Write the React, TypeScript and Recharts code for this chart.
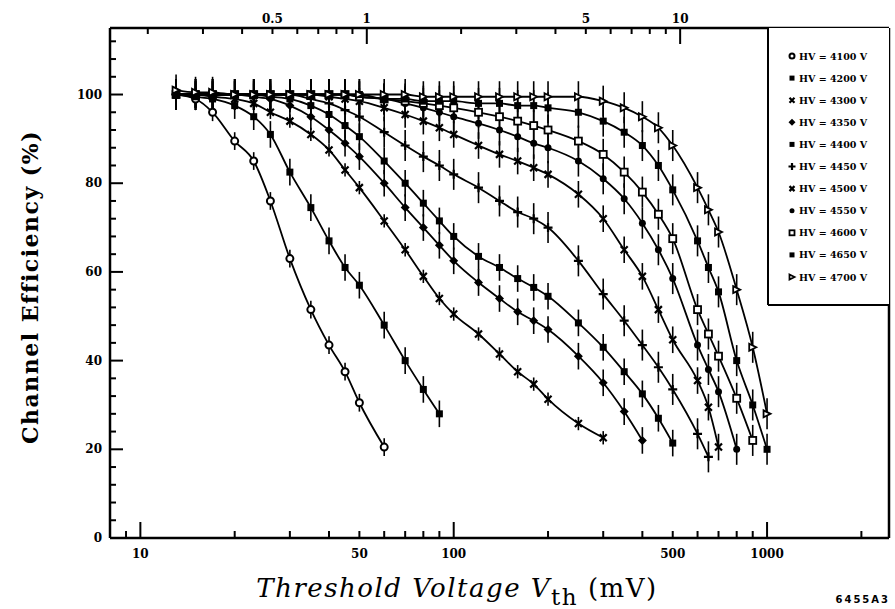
import React from 'react';
import { ComposedChart, Line, XAxis, YAxis, ErrorBar } from 'recharts';

// threshold settings (mV) shared by all HV scans
const THRESHOLDS_MV = [
  13, 15, 17, 20, 23, 26, 30, 35, 40, 45, 50, 60, 70, 80, 90, 100, 120, 140, 160, 180, 200,
  250, 300, 350, 400, 450, 500, 600, 650, 700, 800, 900, 1000,
];

const HV_LABELS = [
  'HV = 4100 V', 'HV = 4200 V', 'HV = 4300 V', 'HV = 4350 V', 'HV = 4400 V', 'HV = 4450 V',
  'HV = 4500 V', 'HV = 4550 V', 'HV = 4600 V', 'HV = 4650 V', 'HV = 4700 V',
];

// efficiency (%) per threshold, each scan stops at its last measured point
const EFF_4100 = [100, 99, 96, 89.5, 85, 76, 63, 51.5, 43.5, 37.5, 30.5, 20.5];
const EFF_4200 = [100, 99.5, 99, 97.5, 95, 91, 82.5, 74.5, 67, 61, 57, 48, 40, 33.5, 28];
const EFF_4300 = [100, 100, 99.5, 99, 98, 96, 94, 91, 87.5, 83, 79, 71.5, 65, 59, 54, 50.5, 46, 41.5, 37.5, 34.7, 31.3, 25.8, 22.6];
const EFF_4350 = [100, 100, 100, 100, 99.5, 99, 97.5, 95, 92, 89, 86, 80, 74.5, 70, 66, 62.5, 57.6, 54, 51, 49, 47, 41, 35, 28.5, 22];
const EFF_4400 = [100, 100, 100, 100, 100, 99.5, 99, 97.5, 95.5, 93, 90.5, 85, 80, 75.5, 71.5, 68, 63.5, 61, 58.5, 56.5, 54.5, 48.5, 43, 37.5, 32.5, 27, 21.4];
const EFF_4450 = [100, 100, 100, 100, 100, 100, 100, 99, 98, 96.5, 95, 91.5, 88.5, 86, 84, 82, 79, 76, 73.5, 72, 70, 62.5, 55, 49, 43.5, 38.5, 33.5, 23.5, 18.3];
const EFF_4500 = [100, 100, 100, 100, 100, 100, 100, 100, 99.5, 99, 98.5, 97, 95.5, 94, 92.5, 91, 88.5, 86.5, 85, 83.5, 82, 77.5, 72, 65, 59, 51.5, 44.7, 35.5, 29.5, 20.5];
const EFF_4550 = [100, 100, 100, 100, 100, 100, 100, 100, 100, 100, 99.5, 99, 98, 97, 96, 95, 93.5, 92, 90.5, 89, 88, 85, 81, 76.5, 71, 65, 58.5, 43.5, 38, 33, 20];
const EFF_4600 = [100, 100, 100, 100, 100, 100, 100, 100, 100, 100, 99.5, 99, 98.5, 98, 97.5, 97, 96, 95, 94, 93, 92, 89.5, 86.5, 82.5, 78, 73, 67.5, 51.5, 46, 41, 31.5, 22];
const EFF_4650 = [100, 100, 100, 100, 100, 100, 100, 100, 100, 100, 100, 99, 99, 98.5, 98.5, 98.5, 98, 98, 97.5, 97.5, 97, 96, 94, 91.5, 88.5, 84, 78.5, 67, 61, 55.5, 40, 30, 20];
const EFF_4700 = [101, 100.5, 100.5, 100, 100, 100, 100, 100, 100, 100, 100, 100, 100, 99.5, 99.5, 99.5, 99.5, 99.5, 99.5, 99.5, 99.5, 99.5, 98.5, 97, 95, 92.5, 88.5, 79, 74, 69, 56, 43, 28];

// typical error bar half-length per scan (%)
const ERRORS = [2, 3, 1.5, 3, 3, 3.5, 3, 3.5, 3.5, 3.5, 3.5];
const MARKERS = ['circle', 'square', 'cross', 'diamond', 'square', 'plus', 'cross', 'dot', 'openSquare', 'square', 'openTriangle'];

const BOTTOM_TICKS = [9, 10, 20, 30, 40, 50, 60, 70, 80, 90, 100, 200, 300, 400, 500, 600, 700, 800, 900, 1000, 2000];
const BOTTOM_LABELS = [10, 50, 100, 500, 1000];
const BOTTOM_MAJOR = [10, 100, 1000];
// upper scale: same threshold expressed in the other unit
const TOP_TICKS = [0.2, 0.3, 0.4, 0.5, 0.6, 0.7, 0.8, 0.9, 1, 2, 3, 4, 5, 6, 7, 8, 9, 10, 20, 30, 40];
const TOP_LABELS = [0.5, 1, 5, 10];
const TOP_MAJOR = [1, 10];
const Y_TICKS = [0, 4, 8, 12, 16, 20, 24, 28, 32, 36, 40, 44, 48, 52, 56, 60, 64, 68, 72, 76, 80, 84, 88, 92, 96, 100, 104, 108, 112];

const MV_PER_UNIT = 52.8;
const X_DOMAIN = [8, 2450];
const W = 895;
const H = 609;

const EFFS = [EFF_4100, EFF_4200, EFF_4300, EFF_4350, EFF_4400, EFF_4450, EFF_4500, EFF_4550, EFF_4600, EFF_4650, EFF_4700];

const series = EFFS.map((vals, i) => ({
  name: HV_LABELS[i],
  marker: MARKERS[i],
  data: vals.map((eff, j) => ({ v: THRESHOLDS_MV[j], eff, err: ERRORS[i] })),
}));

// invisible carrier so the upper axis has something to scale against
const topAxisData = TOP_TICKS.map((t) => ({ t, eff: 0 }));

const tickFont = { fontFamily: 'DejaVu Serif', fontWeight: 700, fontSize: 12, fill: '#000' };

function Marker({ kind, cx, cy, s }: { kind: string; cx: number; cy: number; s: number }) {
  switch (kind) {
    case 'circle':
      return <circle cx={cx} cy={cy} r={s} fill="#fff" stroke="#000" strokeWidth={2} />;
    case 'dot':
      return <circle cx={cx} cy={cy} r={s} fill="#000" />;
    case 'square':
      return <rect x={cx - s} y={cy - s} width={2 * s} height={2 * s} fill="#000" />;
    case 'openSquare':
      return <rect x={cx - s} y={cy - s} width={2 * s} height={2 * s} fill="#fff" stroke="#000" strokeWidth={1.8} />;
    case 'diamond':
      return <path d={`M${cx},${cy - s - 1}L${cx + s + 1},${cy}L${cx},${cy + s + 1}L${cx - s - 1},${cy}Z`} fill="#000" />;
    case 'cross':
      return (
        <path d={`M${cx - s},${cy - s}L${cx + s},${cy + s}M${cx - s},${cy + s}L${cx + s},${cy - s}`} stroke="#000" strokeWidth={2.2} />
      );
    case 'plus':
      return <path d={`M${cx - s - 1},${cy}L${cx + s + 1},${cy}M${cx},${cy - s - 1}L${cx},${cy + s + 1}`} stroke="#000" strokeWidth={2.2} />;
    default:
      return <path d={`M${cx - s},${cy - s}L${cx + s},${cy}L${cx - s},${cy + s}Z`} fill="#fff" stroke="#000" strokeWidth={1.8} />;
  }
}

const BottomTick = ({ x, y, payload }: any) => {
  const v = payload.value;
  const len = BOTTOM_MAJOR.includes(v) ? 16 : 7;
  return (
    <g>
      <line x1={x} x2={x} y1={y} y2={y - len} stroke="#000" strokeWidth={2} />
      {BOTTOM_LABELS.includes(v) && (
        <text x={x} y={y + 20} textAnchor="middle" style={tickFont}>
          {v}
        </text>
      )}
    </g>
  );
};

const TopTick = ({ x, y, payload }: any) => {
  const v = payload.value;
  const len = TOP_MAJOR.includes(v) ? 16 : 6;
  return (
    <g>
      <line x1={x} x2={x} y1={y} y2={y + len} stroke="#000" strokeWidth={2} />
      {TOP_LABELS.includes(v) && (
        <text x={x} y={y - 5} textAnchor="middle" style={tickFont}>
          {v}
        </text>
      )}
    </g>
  );
};

const LeftTick = ({ x, y, payload }: any) => {
  const v = payload.value;
  const major = v % 20 === 0;
  return (
    <g>
      <line x1={x} x2={x + (major ? 13 : 6)} y1={y} y2={y} stroke="#000" strokeWidth={2} />
      {major && (
        <text x={x - 8} y={y + 4} textAnchor="end" style={tickFont}>
          {v}
        </text>
      )}
    </g>
  );
};

export default function App() {
  const legendTop = 28;
  const legendLeft = 768;
  return (
    <div style={{ position: 'absolute', left: 0, top: 0, width: W, height: H, background: '#fff' }}>
      <ComposedChart width={W} height={H} margin={{ top: 27, right: 5, bottom: 70, left: 109 }}>
        <XAxis
          xAxisId="bottom"
          dataKey="v"
          type="number"
          scale="log"
          domain={X_DOMAIN}
          allowDataOverflow
          ticks={BOTTOM_TICKS}
          interval={0}
          height={1}
          tickSize={0}
          tickMargin={0}
          tickLine={false}
          tick={<BottomTick />}
          axisLine={{ stroke: '#000', strokeWidth: 2.5 }}
        />
        <XAxis
          xAxisId="top"
          orientation="top"
          dataKey="t"
          type="number"
          scale="log"
          domain={[X_DOMAIN[0] / MV_PER_UNIT, X_DOMAIN[1] / MV_PER_UNIT]}
          allowDataOverflow
          ticks={TOP_TICKS}
          interval={0}
          height={1}
          tickSize={0}
          tickMargin={0}
          tickLine={false}
          tick={<TopTick />}
          axisLine={{ stroke: '#000', strokeWidth: 2.5 }}
        />
        <YAxis
          yAxisId="left"
          type="number"
          domain={[0, 115]}
          allowDataOverflow
          ticks={Y_TICKS}
          interval={0}
          width={1}
          tickSize={0}
          tickMargin={0}
          tickLine={false}
          tick={<LeftTick />}
          axisLine={{ stroke: '#000', strokeWidth: 2.5 }}
        />
        <YAxis
          yAxisId="right"
          orientation="right"
          type="number"
          domain={[0, 115]}
          allowDataOverflow
          width={1}
          tick={false}
          tickLine={false}
          axisLine={{ stroke: '#000', strokeWidth: 2.5 }}
        />
        <Line
          xAxisId="top"
          yAxisId="left"
          data={topAxisData}
          dataKey="eff"
          stroke="none"
          dot={false}
          activeDot={false}
          legendType="none"
          isAnimationActive={false}
        />
        {series.map((s) => (
          <Line
            key={s.name}
            xAxisId="bottom"
            yAxisId="left"
            data={s.data}
            dataKey="eff"
            name={s.name}
            type="monotone"
            stroke="#000"
            strokeWidth={1.8}
            dot={(p: any) => <Marker key={`${s.name}-${p.index}`} kind={s.marker} cx={p.cx} cy={p.cy} s={3.5} />}
            activeDot={false}
            isAnimationActive={false}
          >
            <ErrorBar dataKey="err" direction="y" width={0} stroke="#000" strokeWidth={1.6} isAnimationActive={false} />
          </Line>
        ))}
      </ComposedChart>

      <svg width={W} height={H} style={{ position: 'absolute', left: 0, top: 0, pointerEvents: 'none' }}>
        {/* legend box */}
        <rect x={legendLeft} y={legendTop} width={121} height={277} fill="#fff" />
        <line x1={legendLeft} x2={legendLeft} y1={legendTop} y2={legendTop + 277} stroke="#000" strokeWidth={2} />
        <line x1={legendLeft} x2={889} y1={legendTop + 277} y2={legendTop + 277} stroke="#000" strokeWidth={2} />
        {series.map((s, i) => {
          const cy = 56 + i * 22.1;
          return (
            <g key={s.name}>
              <Marker kind={s.marker} cx={792} cy={cy} s={2.5} />
              <text x={799} y={cy + 3.5} style={{ fontFamily: 'DejaVu Serif', fontWeight: 700, fontSize: 9.5, fill: '#000' }}>
                {s.name}
              </text>
            </g>
          );
        })}

        <text
          transform="translate(38, 287) rotate(-90)"
          textAnchor="middle"
          style={{ fontFamily: 'DejaVu Serif', fontWeight: 700, fontSize: 22, letterSpacing: 1.5, fill: '#000' }}
        >
          Channel Efficiency (%)
        </text>

        <text
          x={457}
          y={597}
          textAnchor="middle"
          style={{ fontFamily: 'DejaVu Serif', fontSize: 26, letterSpacing: 1.5, fill: '#000' }}
        >
          <tspan fontStyle="italic">Threshold Voltage V</tspan>
          <tspan dy={8} fontSize={23}>th</tspan>
          <tspan dy={-8}> (mV)</tspan>
        </text>

        <text x={890} y={603} textAnchor="end" style={{ fontFamily: 'DejaVu Sans', fontWeight: 700, fontSize: 10, letterSpacing: 2, fill: '#000' }}>
          6455A3
        </text>
      </svg>
    </div>
  );
}
